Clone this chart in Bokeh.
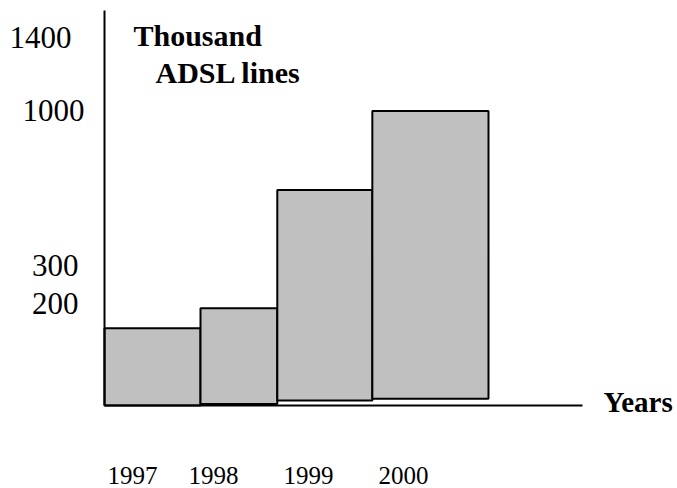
from bokeh.plotting import figure
from bokeh.models import Range1d, ColumnDataSource
from bokeh.core.properties import value
from bokeh.embed import file_html
from bokeh.resources import INLINE

# ---- data (thousand ADSL lines) ----
years = ["1997", "1998", "1999", "2000"]
lines_thousand = [262, 330, 732, 1000]      # bar tops
bar_base = [0, 5, 17, 23]                   # bars are not exactly on the axis
# ---- layout ----
bar_left = [0.0, 1.0, 1.8, 2.79]
bar_right = [1.0, 1.8, 2.79, 4.0]
year_label_x = [0.03, 0.875, 1.865, 2.855]
year_label_y = -239
y_tick_labels = ["1400", "1000", "300", "200"]
y_tick_pos = [1248, 1000, 475, 345]
y_tick_right = [-0.344, -0.208, -0.271, -0.271]
axis_x_end = 4.979
axis_y_end = 1341

SERIF = "Liberation Serif"

src = ColumnDataSource(dict(left=bar_left, right=bar_right,
                            bottom=bar_base, top=lines_thousand, year=years))

p = figure(width=677, height=488, output_backend="svg", toolbar_location=None,
           x_range=Range1d(-1.0833, 5.9688), y_range=Range1d(-281.8, 1375.2),
           min_border=0)
p.outline_line_color = None
p.grid.visible = False
p.axis.visible = False
p.background_fill_color = "white"
p.border_fill_color = "white"

p.quad(left="left", right="right", bottom="bottom", top="top", source=src,
       fill_color="#c0c0c0", line_color="black", line_width=2)

# axis lines
p.segment(x0=[0, 0], y0=[0, 0], x1=[0, axis_x_end], y1=[axis_y_end, 0],
          line_color="black", line_width=2)

# y tick labels
p.text(x=y_tick_right, y=y_tick_pos, text=y_tick_labels,
       text_font=value(SERIF), text_font_size="31px", text_align="right",
       text_baseline="middle", text_color="black")

# year labels
p.text(x=year_label_x, y=[year_label_y] * len(years), text=years,
       text_font=value(SERIF), text_font_size="25px", text_align="left",
       text_baseline="middle", text_color="black")

p.text(x=[0.302, 0.531], y=[1256, 1131], text=["Thousand", "ADSL lines"],
       text_font=value(SERIF), text_font_size="30px", text_font_style="bold",
       text_baseline="middle", text_color="black")
p.text(x=[5.198], y=[13.6], text=["Years"],
       text_font=value(SERIF), text_font_size="29px", text_font_style="bold",
       text_baseline="middle", text_color="black")

open("out.html", "w").write(file_html(p, INLINE))
